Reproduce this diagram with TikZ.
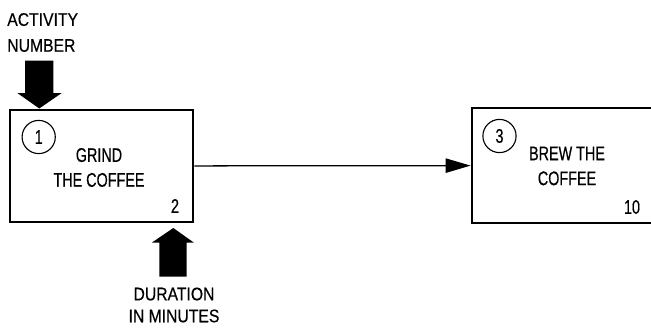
\documentclass[tikz,border=0pt]{standalone}
\usepackage{fontspec}
\setmainfont{Liberation Sans}[FakeStretch=0.73, FakeBold=0.4]
\newfontfamily\labelfont{Liberation Sans}[FakeStretch=0.86, FakeBold=0.4]
\usetikzlibrary{arrows.meta}

\begin{document}
\begin{tikzpicture}[x=0.025cm, y=-0.025cm,
  activity/.style={shape=rectangle, draw, line width=2pt, minimum height=2.8cm, inner sep=0pt},
  number/.style={shape=circle, draw, line width=0.8pt, minimum size=0.83cm, inner sep=0pt, font=\fontsize{14}{16}\selectfont},
  boxtext/.style={align=center, inner sep=0pt, font=\fontsize{14}{17.7}\selectfont},
  note/.style={inner sep=0pt, font=\labelfont\fontsize{13}{18.4}\selectfont}]
\useasboundingbox (0,0) rectangle (651,329);

\node (grind) at (101.5,166) [activity, minimum width=4.575cm] {};

\node (brew) at (567,165.5) [activity, minimum width=4.75cm, minimum height=2.875cm] {};

\node (grind number) at (38.7,137) [number] {1};

\node (brew number) at (499.5,136) [number] {3};

\node (grind text) at (99,167.5) [boxtext] {GRIND\\THE COFFEE};

\node (brew text) at (567,166) [boxtext] {BREW THE\\COFFEE};

\node (grind time) at (175,206) [boxtext] {2};

\node (brew time) at (632,207) [boxtext] {10};

\node (activity note) at (7,32.5) [note, anchor=west, align=left] {ACTIVITY\\NUMBER};

\node (duration note) at (174,305) [note, align=center, font=\labelfont\fontsize{13}{15.6}\selectfont] {DURATION\\IN MINUTES};

% block arrows
\fill (25,60.5) -- (53.3,60.5) -- (53.3,93) -- (61.7,93) -- (39.3,108.5) -- (17.3,93) -- (25,93) -- cycle;
\fill (159.3,276.7) -- (186.7,276.7) -- (186.7,242.7) -- (194,242.7) -- (173.3,228) -- (151.7,242.7) -- (159.3,242.7) -- cycle;

\draw [line width=0.9pt, -{Triangle[length=0.625cm, width=0.36cm]}] (grind) -- (brew);
\end{tikzpicture}
\end{document}
